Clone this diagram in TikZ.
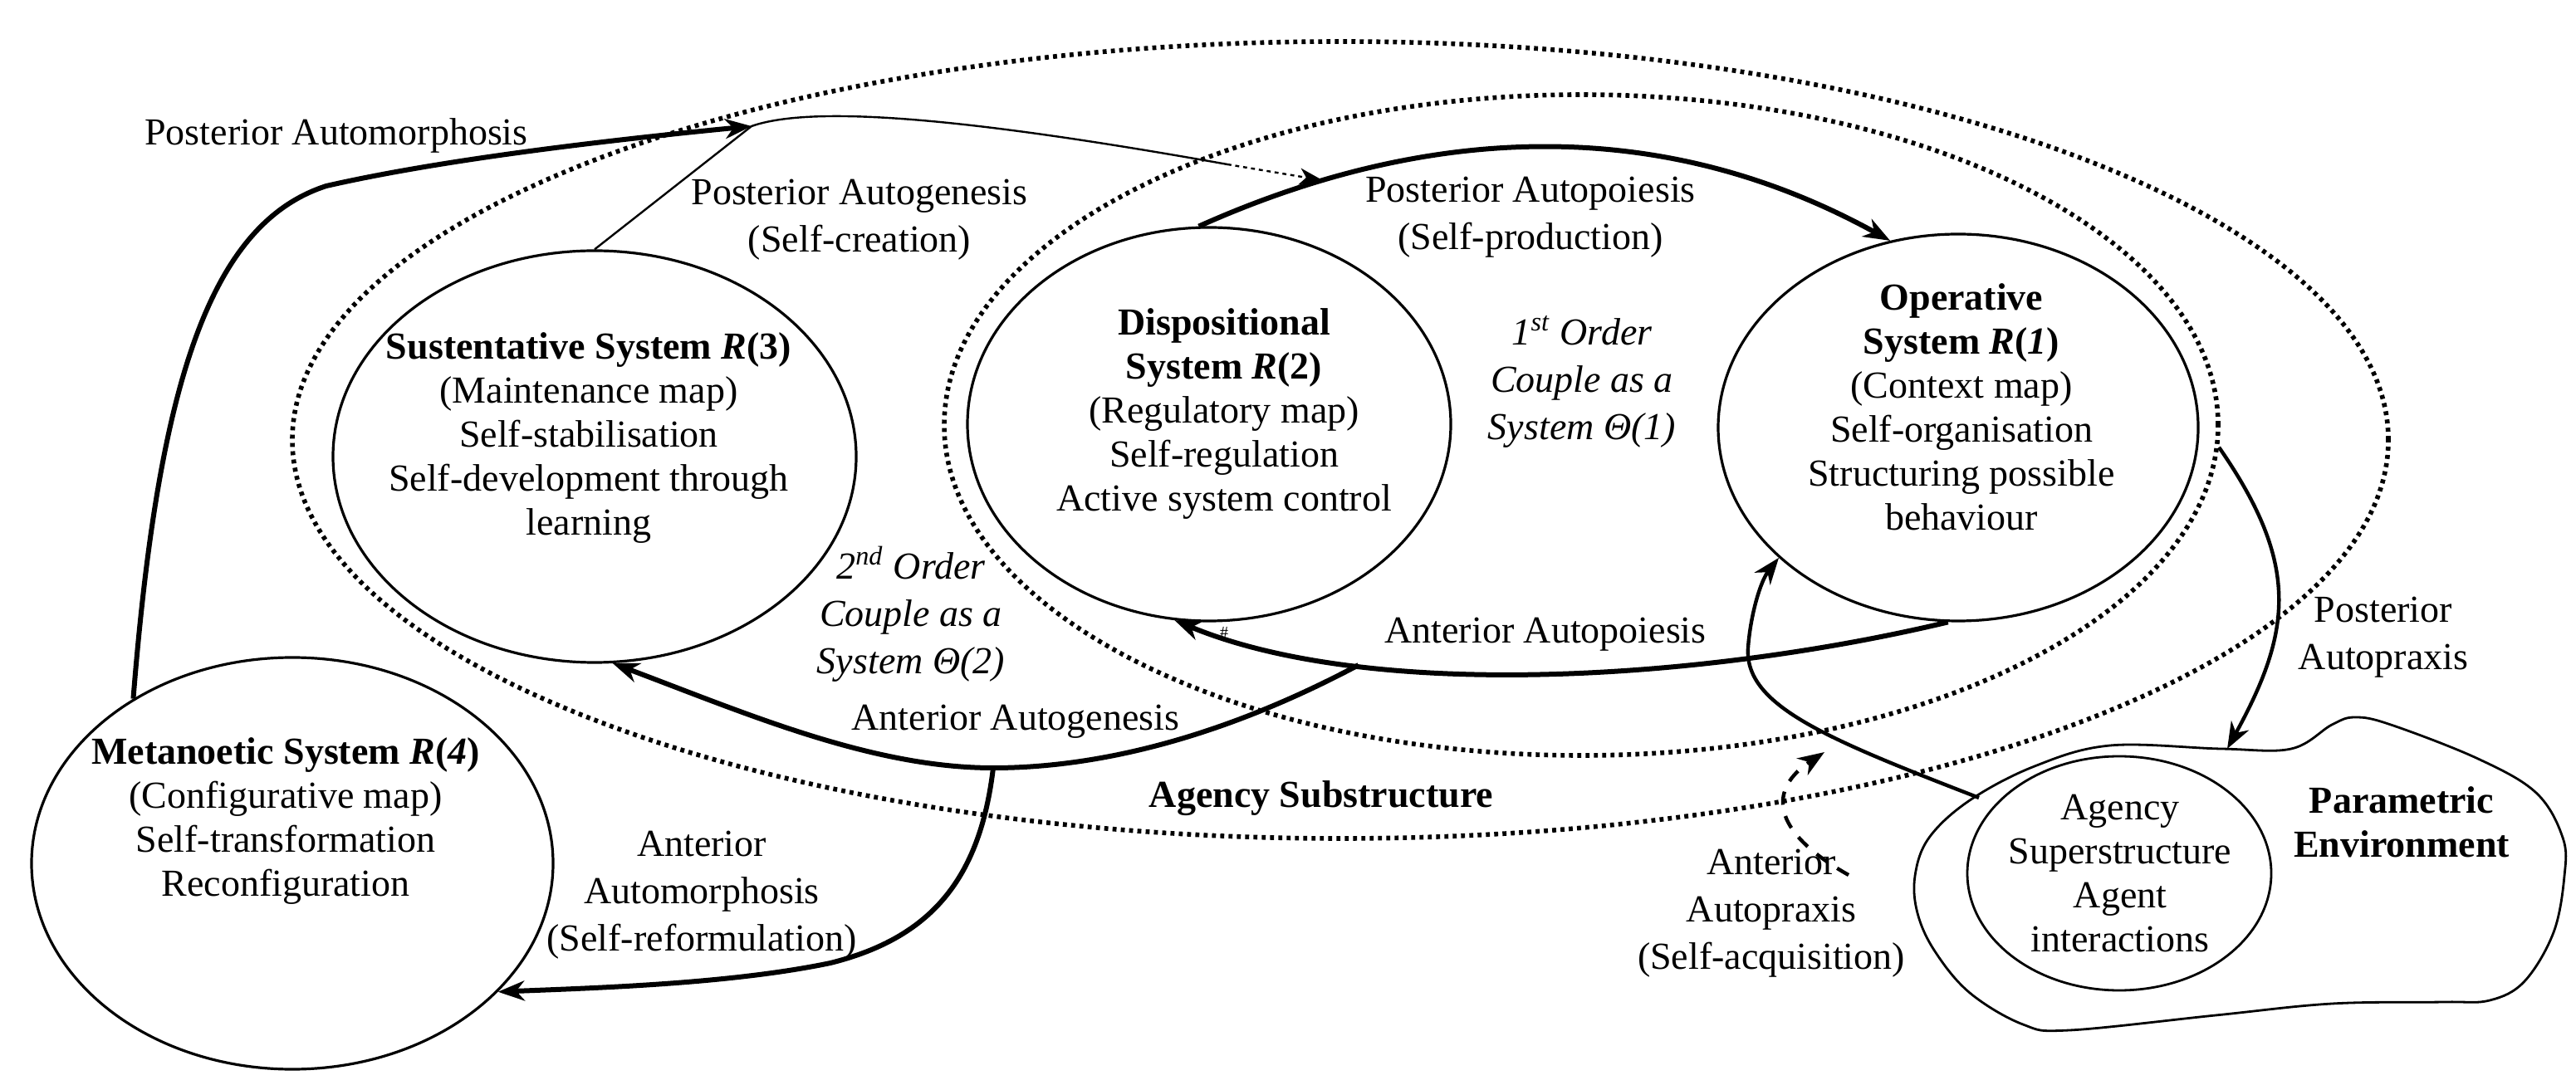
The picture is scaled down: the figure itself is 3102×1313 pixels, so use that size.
\documentclass[tikz,border=0pt]{standalone}
\usepackage{fontspec}
\setmainfont{Liberation Serif}
\usetikzlibrary{shapes.geometric,arrows.meta}

\begin{document}
\begin{tikzpicture}[x=0.25pt,y=-0.25pt]

\tikzset{SystemStyle/.style = {draw, ellipse, line width = 0.8pt, inner sep = 0pt},
         CoupleStyle/.style = {draw, ellipse, line width = 1.4pt, dash pattern = on 1.2pt off 1.3pt, inner sep = 0pt},
         TextStyle/.style   = {align = center, inner sep = 0pt, font = \fontsize{11.5pt}{13.25pt}\selectfont},
         WideText/.style    = {TextStyle, font = \fontsize{11.5pt}{14.25pt}\selectfont},
         OrderText/.style   = {TextStyle, font = \fontsize{11.5pt}{14.25pt}\selectfont\itshape},
         EdgeStyle/.style   = {line width = 1.5pt, -{Stealth[length = 8pt, width = 6pt, inset = 2.5pt]}},
         ThinEdge/.style    = {line width = 0.6pt}}

\useasboundingbox (0,0) rectangle (3102,1313);

\node[CoupleStyle, minimum width = 631pt,   minimum height = 240pt] (O2) at (1614,530) {};
\node[CoupleStyle, minimum width = 383.5pt, minimum height = 199pt] (O1) at (1904,512) {};

\node[SystemStyle, minimum width = 144.5pt, minimum height = 116.5pt] (R1) at (2358,515)  {};
\node[SystemStyle, minimum width = 145.5pt, minimum height = 118.5pt] (R2) at (1456,511)  {};
\node[SystemStyle, minimum width = 157.5pt, minimum height = 124pt]   (R3) at (716,550)   {};
\node[SystemStyle, minimum width = 157pt,   minimum height = 124pt]   (R4) at (352,1040)  {};

\draw[line width = 0.7pt] plot[smooth cycle, tension = 0.6] coordinates {(2541,898) (2675,902) (2759,902) (2808,873) (2836,864) (2879,873) (2984,914) (3054,955) (3086,1009) (3088,1055) (3075,1123) (3040,1182) (2998,1205) (2942,1207) (2808,1209) (2668,1223) (2492,1241) (2436,1234) (2372,1196) (2330,1146) (2309,1100) (2306,1055) (2323,1009) (2372,964) (2450,923)};
\node[draw, ellipse, line width = 0.7pt, inner sep = 0pt, minimum width = 91.5pt, minimum height = 70.5pt] (A) at (2552,1052) {};

\coordinate (apex) at (905,152);
\coordinate (bend) at (1478,198);
\coordinate (E1) at (2682,902);
\coordinate (E2) at (2383,961);
\coordinate (D1) at (2226,1054);
\coordinate (D2) at (2197,906);

\draw[EdgeStyle] (R2.93) .. controls (1650,180) and (1950,110) .. (R1.110) coordinate[pos = 0.22] (pp);
\draw[EdgeStyle] (R4.134) .. controls (190,470) and (250,270) .. (393,224) .. controls (520,195) and (700,172) .. (apex);
\draw[ThinEdge] (R3.90) -- (apex) .. controls (990,122) and (1220,152) .. (bend);
\draw[ThinEdge, dash pattern = on 1.2pt off 1.2pt, -{Stealth[length = 7pt, width = 5pt, inset = 2pt]}] (bend) -- (pp);
\draw[EdgeStyle, line width = 1.1pt] (O1.-2) .. controls (2770,680) and (2760,760) .. (E1);

\draw[EdgeStyle] (R1.-93) .. controls (2050,820) and (1650,845) .. (R2.-100) coordinate[pos = 0.73] (ap);
\draw[EdgeStyle] (ap) .. controls (1450,900) and (1300,925) .. (1196,925) coordinate (ag) .. controls (1050,925) and (900,860) .. (R3.-85);
\draw[EdgeStyle] (ag) .. controls (1180,1060) and (1120,1130) .. (1000,1160) .. controls (880,1185) and (720,1190) .. (R4.-32);

\draw[EdgeStyle, line width = 1.1pt] (E2) .. controls (2200,890) and (2100,850) .. (2105,780) .. controls (2108,740) and (2120,700) .. (R1.216);
\draw[EdgeStyle, line width = 1.1pt, dash pattern = on 4pt off 3.5pt] (D1) .. controls (2130,1000) and (2130,950) .. (D2);

\node[TextStyle] (T1) at (2362,490) {\textbf{Operative}\\\textbf{System \textit{R}(\textit{1})}\\(Context map)\\Self-organisation\\Structuring possible\\behaviour};
\node[TextStyle] (T2) at (1474,499) {\textbf{Dispositional}\\\textbf{System \textit{R}(2)}\\(Regulatory map)\\Self-regulation\\Active system control};
\node[TextStyle] (T3) at (709,528)  {\textbf{Sustentative System \textit{R}(3)}\\(Maintenance map)\\Self-stabilisation\\Self-development through\\learning};
\node[TextStyle] (T4) at (344,989)  {\textbf{Metanoetic System \textit{R}(\textit{4})}\\(Configurative map)\\Self-transformation\\Reconfiguration};
\node[TextStyle] (TA) at (2553,1052) {Agency\\Superstructure\\Agent\\interactions};
\node[TextStyle] (TE) at (2892,990) {\textbf{Parametric}\\\textbf{Environment}};
\node[OrderText] (TO1) at (1905,460) {1\textsuperscript{st} Order\\Couple as a\\System Θ(1)};
\node[OrderText] (TO2) at (1097,740) {2\textsuperscript{nd} Order\\Couple as a\\System Θ(2)};
\node[TextStyle] (TS) at (1591,962) {\textbf{Agency Substructure}};
\node[TextStyle, font = \fontsize{5pt}{5pt}\selectfont] (hash) at (1474,762) {\#};

\node[TextStyle] (L1) at (405,163)  {Posterior Automorphosis};
\node[WideText]  (L2) at (1035,265) {Posterior Autogenesis\\(Self-creation)};
\node[WideText]  (L3) at (1843,262) {Posterior Autopoiesis\\(Self-production)};
\node[WideText]  (L4) at (2870,768) {Posterior\\Autopraxis};
\node[TextStyle] (L5) at (1861,764) {Anterior Autopoiesis};
\node[TextStyle] (L6) at (1223,869) {Anterior Autogenesis};
\node[WideText]  (L7) at (845,1078) {Anterior\\Automorphosis\\(Self-reformulation)};
\node[WideText]  (L8) at (2133,1100) {Anterior\\Autopraxis\\(Self-acquisition)};

\end{tikzpicture}
\end{document}
